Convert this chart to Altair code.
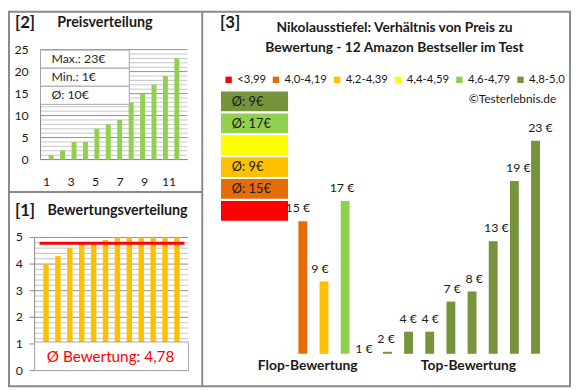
import altair as alt
import pandas as pd

# ---------------- data ----------------
ranks = list(range(1, 13))
prices_sorted = [1, 2, 4, 4, 7, 8, 9, 13, 15, 17, 19, 23]
ratings_sorted = [4.0, 4.3, 4.6, 4.8, 4.8, 4.9, 5.0, 5.0, 5.0, 5.0, 5.0, 5.0]
avg_rating = 4.78
price_stats = ["Max.: 23€", "Min.: 1€", "Ø: 10€"]
rating_label = "Ø Bewertung: 4,78"

price_ticks = [0, 5, 10, 15, 20, 25]
price_grid = list(range(0, 26))
rank_ticks = [1, 3, 5, 7, 9, 11]
rating_ticks = [0, 1, 2, 3, 4, 5]
rating_grid = [round(v * 0.2, 1) for v in range(0, 26)]

classes = ["<3,99", "4,0-4,19", "4,2-4,39", "4,4-4,59", "4,6-4,79", "4,8-5,0"]
class_colors = ["#FF0000", "#E46C0A", "#FFC000", "#FFFF00", "#92D050", "#77933C"]
class_avg = ["", "Ø: 15€", "Ø: 9€", "", "Ø: 17€", "Ø: 9€"]

test_prices = [15, 9, 17, 1, 2, 4, 4, 7, 8, 13, 19, 23]
test_classes = ["4,0-4,19", "4,2-4,39", "4,6-4,79"] + ["4,8-5,0"] * 9
groups = ["Flop-Bewertung", "Top-Bewertung"]

title2 = "Preisverteilung"
title1 = "Bewertungsverteilung"
title3 = ["Nikolausstiefel: Verhältnis von Preis zu", "Bewertung - 12 Amazon Bestseller im Test"]
copyright_txt = "©Testerlebnis.de"

# ---------------- layout helpers ----------------
O = 8  # page margin
def c(v):
    return v - O

FONT = "Lato"
TXT = "#1a1a1a"
GRID_MINOR = "#C6C6C6"
GRID_MAJOR = "#909090"
AXIS = "#868686"
one = pd.DataFrame({"k": [0]})

def txt(text, x, y, size, bold=False, align="left", color=TXT):
    return alt.Chart(one).mark_text(
        text=text, font=FONT, fontSize=size, fontWeight="bold" if bold else "normal",
        align=align, baseline="middle", color=color,
    ).encode(x=alt.value(c(x)), y=alt.value(c(y)))

def hline(x1, x2, y, color=AXIS, w=1):
    return alt.Chart(one).mark_rule(color=color, strokeWidth=w).encode(
        x=alt.value(c(x1)), x2=alt.value(c(x2)), y=alt.value(c(y)))

def vline(x, y1, y2, color=AXIS, w=1):
    return alt.Chart(one).mark_rule(color=color, strokeWidth=w).encode(
        x=alt.value(c(x)), y=alt.value(c(y1)), y2=alt.value(c(y2)))

# ---------------- frame ----------------
frame = alt.Chart(one).mark_rect(fillOpacity=0, stroke="#8A8A8A", strokeWidth=2).encode(
    x=alt.value(1), x2=alt.value(570), y=alt.value(1), y2=alt.value(381))
vdiv = alt.Chart(one).mark_rule(color="#8A8A8A", strokeWidth=2).encode(
    x=alt.value(c(205)), y=alt.value(1), y2=alt.value(381))
hdiv = alt.Chart(one).mark_rule(color="#8A8A8A", strokeWidth=2).encode(
    x=alt.value(1), x2=alt.value(c(205)), y=alt.value(c(192)))

# ---------------- panel [2] Preisverteilung ----------------
def x2s():
    return alt.Scale(domain=[0.5, 12.5], range=[c(41), c(190)])
def y2s():
    return alt.Scale(domain=[0, 25], range=[c(159), c(47.5)])

g2 = pd.DataFrame({"v": price_grid})
g2_minor = alt.Chart(g2).transform_filter("datum.v % 5 != 0").mark_rule(color=GRID_MINOR).encode(
    y=alt.Y("v:Q", scale=y2s(), axis=None), x=alt.value(c(41)), x2=alt.value(c(190)))
g2_major = alt.Chart(g2).transform_filter("datum.v % 5 == 0").mark_rule(color=GRID_MAJOR).encode(
    y=alt.Y("v:Q", scale=y2s(), axis=None), x=alt.value(c(41)), x2=alt.value(c(190)))

p2 = pd.DataFrame({"rank": ranks, "price": prices_sorted})
bars2 = alt.Chart(p2).mark_bar(size=5, color="#92D050").encode(
    x=alt.X("rank:Q", scale=x2s(), axis=None),
    y=alt.Y("price:Q", scale=y2s(), axis=None),
    y2=alt.datum(0),
)
ylab2 = alt.Chart(pd.DataFrame({"v": price_ticks})).mark_text(
    font=FONT, fontSize=12.5, align="right", baseline="middle", color=TXT).encode(
    y=alt.Y("v:Q", scale=y2s(), axis=None), x=alt.value(c(29)), text="v:Q")
xlab2 = alt.Chart(pd.DataFrame({"v": rank_ticks})).mark_text(
    font=FONT, fontSize=12.5, align="center", baseline="middle", color=TXT).encode(
    x=alt.X("v:Q", scale=x2s(), axis=None), y=alt.value(c(182)), text="v:Q")
axes2 = [vline(41, 47.5, 159), hline(41, 190, 159)]

stats = pd.DataFrame({"label": price_stats, "row": list(range(len(price_stats)))})
def ys_stats():
    return alt.Scale(domain=[0, 3], range=[c(48), c(103)])
stats_box = alt.Chart(stats).transform_calculate(row2="datum.row + 1").mark_rect(
    fill="white", stroke="#A6A6A6", strokeWidth=1).encode(
    y=alt.Y("row:Q", scale=ys_stats(), axis=None), y2="row2:Q",
    x=alt.value(c(41)), x2=alt.value(c(131)))
stats_text = alt.Chart(stats).transform_calculate(mid="datum.row + 0.5").mark_text(
    font=FONT, fontSize=12.5, align="left", baseline="middle", color="#262626").encode(
    y=alt.Y("mid:Q", scale=ys_stats(), axis=None), x=alt.value(c(52)), text="label:N")

# ---------------- panel [1] Bewertungsverteilung ----------------
def x1s():
    return alt.Scale(domain=[0.5, 12.5], range=[c(35.5), c(190.4)])
def y1s():
    return alt.Scale(domain=[0, 5], range=[c(373), c(238)])

g1 = pd.DataFrame({"v": rating_grid})
g1_minor = alt.Chart(g1).transform_filter("abs(datum.v - round(datum.v)) > 0.01").mark_rule(
    color=GRID_MINOR).encode(
    y=alt.Y("v:Q", scale=y1s(), axis=None), x=alt.value(c(35)), x2=alt.value(c(191)))
g1_major = alt.Chart(g1).transform_filter("abs(datum.v - round(datum.v)) <= 0.01").mark_rule(
    color=GRID_MAJOR).encode(
    y=alt.Y("v:Q", scale=y1s(), axis=None), x=alt.value(c(35)), x2=alt.value(c(191)))

p1 = pd.DataFrame({"rank": ranks, "rating": ratings_sorted})
bars1 = alt.Chart(p1).mark_bar(size=5.5, color="#FFC000").encode(
    x=alt.X("rank:Q", scale=x1s(), axis=None),
    y=alt.Y("rating:Q", scale=y1s(), axis=None),
    y2=alt.datum(0),
)
ticks1_df = pd.DataFrame({"v": rating_ticks})
ylab1 = alt.Chart(ticks1_df).mark_text(
    font=FONT, fontSize=12.5, align="right", baseline="middle", color=TXT).encode(
    y=alt.Y("v:Q", scale=y1s(), axis=None), x=alt.value(c(23)), text="v:Q")
yticks1 = alt.Chart(ticks1_df).mark_rule(color=AXIS).encode(
    y=alt.Y("v:Q", scale=y1s(), axis=None), x=alt.value(c(30)), x2=alt.value(c(35)))
axes1 = [vline(35, 238, 373)]

avg_line = alt.Chart(pd.DataFrame({"avg": [avg_rating]})).mark_rule(
    color="#FF0000", strokeWidth=3).encode(
    y=alt.Y("avg:Q", scale=y1s(), axis=None), x=alt.value(c(40)), x2=alt.value(c(187)))
rating_box = alt.Chart(one).mark_rect(fill="white", stroke="#A6A6A6", strokeWidth=1).encode(
    x=alt.value(c(35)), x2=alt.value(c(191)), y=alt.value(c(344)), y2=alt.value(c(373)))
rating_text = txt(rating_label, 112, 359.5, 15.5, align="center", color="#FF0000")

# ---------------- panel [3] Preis / Bewertung ----------------
def x3s():
    return alt.Scale(domain=[0, 11], range=[c(302), c(548)])
def y3s(clamp=False):
    return alt.Scale(domain=[1.8, 23], range=[c(356), c(140)], clamp=clamp)
def cls_scale():
    return alt.Scale(domain=classes, range=class_colors)

p3 = pd.DataFrame({
    "i": list(range(len(test_prices))),
    "price": test_prices,
    "cls": test_classes,
    "label": [f"{p} €" for p in test_prices],
})
bars3 = alt.Chart(p3).mark_bar(size=9).encode(
    x=alt.X("i:Q", scale=x3s(), axis=None),
    y=alt.Y("price:Q", scale=y3s(clamp=True), axis=None),
    y2=alt.datum(1.8),
    color=alt.Color("cls:N", scale=cls_scale(), legend=alt.Legend(
        orient="none", legendX=c(226), legendY=c(72), direction="horizontal",
        title=None, symbolType="square", symbolSize=42, symbolStrokeWidth=0,
        labelFont=FONT, labelFontSize=11.5, labelColor=TXT, labelOffset=3,
        columnPadding=4, padding=0, columns=6)),
)
labels3 = alt.Chart(p3).mark_text(font=FONT, fontSize=12.5, color=TXT, dy=-13,
                                  baseline="middle", align="center").encode(
    x=alt.X("i:Q", scale=x3s(), axis=None),
    y=alt.Y("price:Q", scale=y3s(), axis=None),
    text="label:N")

boxes_df = pd.DataFrame({"cls": classes[::-1], "avg": class_avg[::-1],
                         "k": list(range(len(classes)))})
def ybox():
    return alt.Scale(domain=[0, 6], range=[c(90), c(90 + 6 * 22.2)])
boxes = alt.Chart(boxes_df).transform_calculate(k2="datum.k + 0.9").mark_rect().encode(
    y=alt.Y("k:Q", scale=ybox(), axis=None), y2="k2:Q",
    x=alt.value(c(224)), x2=alt.value(c(292)),
    color=alt.Color("cls:N", scale=cls_scale(), legend=None))
boxes_text = alt.Chart(boxes_df).transform_calculate(km="datum.k + 0.47").mark_text(
    font=FONT, fontSize=13, align="left", baseline="middle", color=TXT).encode(
    y=alt.Y("km:Q", scale=ybox(), axis=None), x=alt.value(c(235)), text="avg:N")

# ---------------- titles ----------------
titles = [
    txt("[2]", 15, 21, 17, bold=True),
    txt(title2, 58, 20.5, 14.5, bold=True),
    txt("[1]", 15, 211, 17, bold=True),
    txt(title1, 48, 211, 14.5, bold=True),
    txt("[3]", 223, 21, 17, bold=True),
    txt(title3[0], 400, 26, 14, bold=True, align="center"),
    txt(title3[1], 400, 46, 14, bold=True, align="center"),
    txt(copyright_txt, 564, 98, 12, align="right"),
    txt(groups[0], 312, 368, 14, bold=True, align="center"),
    txt(groups[1], 475, 368, 14, bold=True, align="center"),
]

chart = alt.layer(
    frame, vdiv, hdiv,
    g2_minor, g2_major, *axes2, bars2, stats_box, stats_text, ylab2, xlab2,
    g1_minor, g1_major, *axes1, yticks1, bars1, avg_line, rating_box, rating_text, ylab1,
    boxes, boxes_text, bars3, labels3,
    *titles,
).resolve_scale(x="independent", y="independent", color="independent").properties(
    width=572, height=382, padding=0, autosize=alt.AutoSizeParams(type="none"),
    background="white",
).configure_view(stroke=None)

chart.save("out.html", embed_options={"renderer": "svg", "actions": False})
